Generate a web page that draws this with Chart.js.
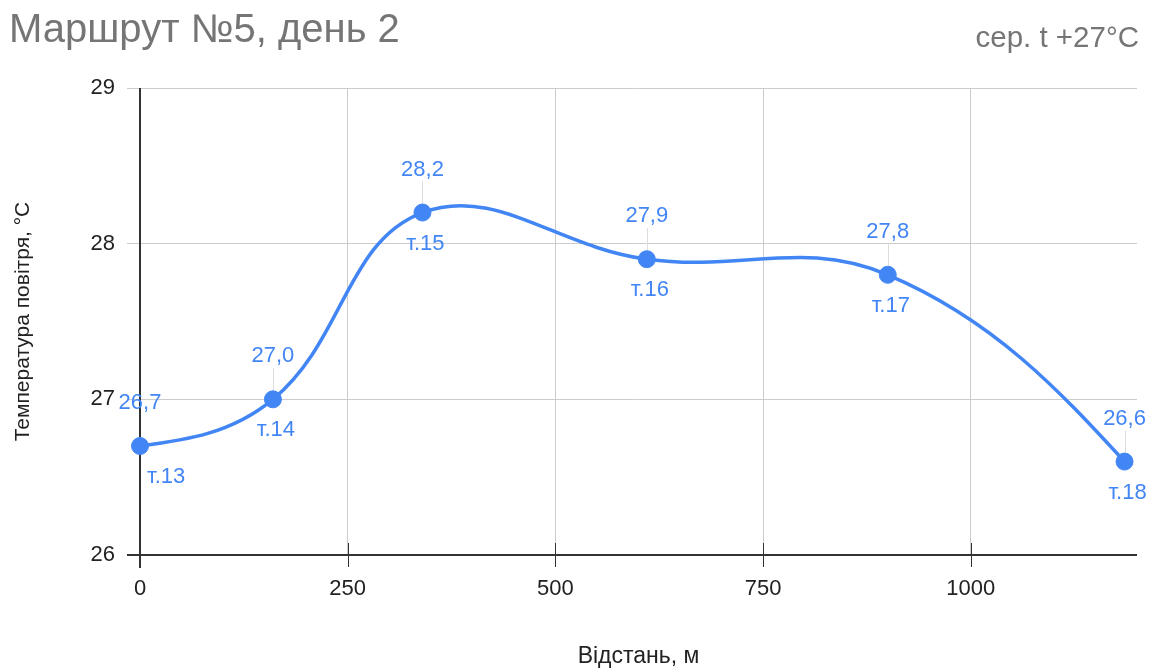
<!DOCTYPE html>
<html>
<head>
<meta charset="utf-8">
<script src="https://cdn.jsdelivr.net/npm/chart.js@4/dist/chart.umd.min.js"></script>
<style>
  html, body { margin: 0; padding: 0; background: #ffffff; }
  #wrap { width: 1160px; height: 671px; }
</style>
</head>
<body>
<div id="wrap"><canvas id="c" width="1160" height="671"></canvas></div>
<script>
// Measurements along route no. 5, day 2
const distances = [0, 160, 340, 610, 900, 1185];          // m
const temperatures = [26.7, 27.0, 28.2, 27.9, 27.8, 26.6]; // °C
const pointNames = ['т.13', 'т.14', 'т.15', 'т.16', 'т.17', 'т.18'];
const xTicks = [0, 250, 500, 750, 1000];
const yTicks = [26, 27, 28, 29];

const chartTitle = 'Маршрут №5, день 2';
const chartSubtitle = 'сер. t +27°C';
const xTitle = 'Відстань, м';
const yTitle = 'Температура повітря, °С';

const FONT = '"Liberation Sans", Arial, sans-serif';
const BLUE = '#4285f4';
const GRID = '#cccccc';
const AXIS = '#333333';

const fmt = v => v.toFixed(1).replace('.', ',');

// Relax the curve at both ends: zero curvature at the first and last point,
// keeping the library's spline tangents at the inner points.
function relaxEnds(chart) {
  const meta = chart.getDatasetMeta(0);
  const line = meta.dataset;
  const pts = meta.data;
  if (!line || pts.length < 3) return;
  if (typeof line.updateControlPoints === 'function') line.updateControlPoints(chart.chartArea, 'x');
  const n = pts.length;
  const first = pts[0], second = pts[1];
  const last = pts[n - 1], prev = pts[n - 2];
  first.cp2x = (first.x + second.cp1x) / 2;
  first.cp2y = (first.y + second.cp1y) / 2;
  last.cp1x = (last.x + prev.cp2x) / 2;
  last.cp1y = (last.y + prev.cp2y) / 2;
  line._path = undefined;
}

// Title, axis lines, value stems and point annotations
const decor = {
  id: 'decor',
  afterDatasetUpdate(chart) { relaxEnds(chart); },
  beforeDatasetsDraw(chart) {
    relaxEnds(chart);
    const { ctx, chartArea: a, scales: { x } } = chart;
    const meta = chart.getDatasetMeta(0);
    ctx.save();
    // stems from value labels down to the points
    ctx.strokeStyle = '#dddddd';
    ctx.lineWidth = 1;
    meta.data.forEach(pt => {
      const px = Math.round(pt.x) + 0.5;
      ctx.beginPath();
      ctx.moveTo(px, pt.y - 31);
      ctx.lineTo(px, pt.y);
      ctx.stroke();
    });
    // axis lines
    ctx.strokeStyle = AXIS;
    ctx.lineWidth = 2;
    ctx.beginPath();
    ctx.moveTo(a.left - 13, a.bottom);
    ctx.lineTo(a.right, a.bottom);
    ctx.moveTo(a.left, a.top);
    ctx.lineTo(a.left, a.bottom + 13);
    ctx.stroke();
    // tick marks crossing the x axis
    ctx.lineWidth = 1;
    xTicks.forEach(v => {
      const px = Math.round(x.getPixelForValue(v)) + 0.5;
      ctx.beginPath();
      ctx.moveTo(px, a.bottom - 12);
      ctx.lineTo(px, a.bottom + 12);
      ctx.stroke();
    });
    ctx.restore();
  },
  afterDatasetsDraw(chart) {
    const { ctx, chartArea: a } = chart;
    const meta = chart.getDatasetMeta(0);
    ctx.save();
    ctx.font = '22px ' + FONT;
    ctx.fillStyle = BLUE;
    ctx.textBaseline = 'middle';
    ctx.textAlign = 'center';
    meta.data.forEach((pt, i) => {
      ctx.fillText(fmt(temperatures[i]), pt.x, pt.y - 43);
      const w = ctx.measureText(pointNames[i]).width;
      let cx = pt.x + 3;
      if (cx - w / 2 < a.left + 7) cx = a.left + 7 + w / 2;
      ctx.fillText(pointNames[i], cx, pt.y + 31);
    });
    ctx.restore();
  },
  afterDraw(chart) {
    const { ctx } = chart;
    ctx.save();
    ctx.fillStyle = '#757575';
    ctx.textBaseline = 'alphabetic';
    ctx.textAlign = 'left';
    ctx.font = '40px ' + FONT;
    ctx.fillText(chartTitle, 9, 42);
    ctx.textAlign = 'right';
    ctx.font = '29.5px ' + FONT;
    ctx.fillText(chartSubtitle, 1139, 47);
    ctx.restore();
  }
};

new Chart(document.getElementById('c'), {
  type: 'scatter',
  data: {
    datasets: [{
      data: distances.map((d, i) => ({ x: d, y: temperatures[i] })),
      showLine: true,
      borderColor: BLUE,
      backgroundColor: BLUE,
      borderWidth: 3.5,
      pointRadius: 8.5,
      pointBorderWidth: 1,
      pointBorderColor: BLUE,
      pointBackgroundColor: BLUE,
      tension: 0.4,
      clip: false
    }]
  },
  options: {
    responsive: false,
    animation: false,
    events: [],
    layout: { padding: { top: 88, right: 23, left: 0, bottom: 0 } },
    plugins: { legend: { display: false }, tooltip: { enabled: false } },
    elements: { line: { capBezierPoints: false } },
    scales: {
      x: {
        type: 'linear',
        min: 0,
        max: 1200,
        afterBuildTicks: s => { s.ticks = xTicks.map(v => ({ value: v })); },
        afterFit: s => { s.height = 116; },
        grid: { color: GRID, lineWidth: 1, drawTicks: false },
        border: { display: false },
        ticks: { color: '#222222', font: { family: FONT, size: 22 }, padding: 21, maxRotation: 0, callback: v => String(v) },
        title: { display: true, text: xTitle, color: '#222222', font: { family: FONT, size: 23 }, padding: { top: 0, bottom: 1 } }
      },
      y: {
        type: 'linear',
        min: 26,
        max: 29,
        afterBuildTicks: s => { s.ticks = yTicks.map(v => ({ value: v })); },
        afterFit: s => { s.width = 140; },
        grid: { color: GRID, lineWidth: 1, drawTicks: true, tickLength: 13, tickColor: GRID },
        border: { display: false },
        ticks: { color: '#222222', font: { family: FONT, size: 22 }, padding: 12, callback: v => String(v) },
        title: { display: true, text: yTitle, color: '#222222', font: { family: FONT, size: 21 }, padding: { top: 11, bottom: 0 } }
      }
    }
  },
  plugins: [decor]
});
</script>
</body>
</html>
